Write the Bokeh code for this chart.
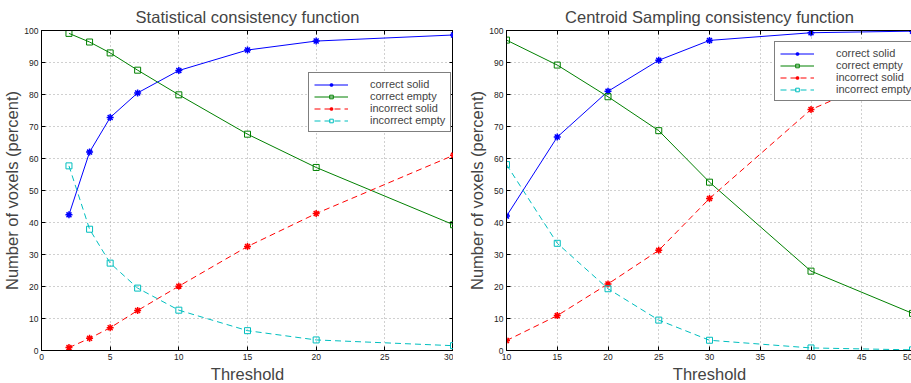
from bokeh.plotting import figure
from bokeh.layouts import row
from bokeh.models import LinearAxis, FixedTicker, Legend, Title
from bokeh.embed import file_html
from bokeh.resources import INLINE

# ---- data: Statistical consistency function ----
stat_threshold = [2, 3.5, 5, 7, 10, 15, 20, 30]
stat_correct_solid = [42.4, 62.0, 72.8, 80.5, 87.5, 93.9, 96.7, 98.6]
stat_correct_empty = [99.1, 96.4, 93.0, 87.6, 79.9, 67.6, 57.2, 39.3]
stat_incorrect_solid = [0.9, 3.8, 7.1, 12.5, 20.1, 32.5, 42.8, 61.0]
stat_incorrect_empty = [57.7, 37.9, 27.3, 19.5, 12.6, 6.2, 3.3, 1.5]

# ---- data: Centroid Sampling consistency function ----
cent_threshold = [10, 15, 20, 25, 30, 40, 50]
cent_correct_solid = [42.0, 66.7, 81.0, 90.7, 96.9, 99.3, 99.8]
cent_correct_empty = [97.0, 89.2, 79.3, 68.7, 52.6, 24.8, 11.6]
cent_incorrect_solid = [3.1, 10.9, 20.8, 31.3, 47.5, 75.3, 89.0]
cent_incorrect_empty = [58.1, 33.5, 19.3, 9.5, 3.2, 0.8, 0.2]

series_labels = ["correct solid", "correct empty", "incorrect solid", "incorrect empty"]
y_ticks = [0, 10, 20, 30, 40, 50, 60, 70, 80, 90, 100]
stat_x_ticks = [0, 5, 10, 15, 20, 25, 30]
cent_x_ticks = [10, 15, 20, 25, 30, 35, 40, 45, 50]
x_label = "Threshold"
y_label = "Number of voxels (percent)"

FONT = "Liberation Sans"
BLUE, GREEN, RED, CYAN = "#0000ff", "#008000", "#ff0000", "#00bfbf"


def style_axis(ax, ticks, show_labels=True):
    ax.ticker = FixedTicker(ticks=ticks)
    ax.major_tick_in = 4
    ax.major_tick_out = 0
    ax.minor_tick_line_color = None
    ax.axis_line_color = "black"
    ax.major_tick_line_color = "black"
    ax.major_label_text_font = FONT
    ax.major_label_text_color = "#222222"
    ax.major_label_text_font_size = "8.5px"
    if show_labels:
        ax.major_label_standoff = 3
    else:
        ax.major_label_overrides = {t: "" for t in ticks}
        ax.major_label_standoff = 0


def make_plot(title, xs, cs, ce, ins, ine, x_range, x_ticks, frame_w, min_left, min_right, leg_loc, extra_right):
    p = figure(frame_width=frame_w, frame_height=320, x_range=x_range, y_range=(0, 100),
               output_backend="svg", toolbar_location=None,
               min_border_left=min_left, min_border_right=min_right,
               min_border_top=0, min_border_bottom=0)
    p.title.text = title
    p.title.text_font = FONT
    p.title.text_font_size = "16.5px"
    p.title.text_font_style = "normal"
    p.title.align = "center"
    p.title.standoff = 10

    for ax in p.xaxis:
        style_axis(ax, x_ticks)
    for ax in p.yaxis:
        style_axis(ax, y_ticks)
        ax.axis_label = y_label
        ax.axis_label_text_font = FONT
        ax.axis_label_text_font_size = "16.5px"
        ax.axis_label_text_font_style = "normal"
        ax.axis_label_standoff = 0

    xt = Title(text=x_label, align="center", text_font=FONT, text_font_size="16.5px",
               text_font_style="normal", standoff=0, offset=0)
    p.add_layout(xt, "below")

    top = LinearAxis()
    style_axis(top, x_ticks, show_labels=False)
    p.add_layout(top, "above")
    if extra_right:
        right = LinearAxis()
        style_axis(right, y_ticks, show_labels=False)
        p.add_layout(right, "right")

    p.xgrid.ticker = FixedTicker(ticks=x_ticks)
    p.ygrid.ticker = FixedTicker(ticks=y_ticks)
    for g in (p.xgrid, p.ygrid):
        g.grid_line_color = "#a0a0a0"
        g.grid_line_dash = "1 3"
        g.grid_line_width = 1
    p.outline_line_color = "black"
    p.outline_line_width = 1

    items = []
    r1 = p.line(xs, cs, line_color=BLUE, line_width=1)
    r1b = p.scatter(xs, cs, marker="asterisk", size=7, line_color=BLUE, line_width=1.5)
    items.append((series_labels[0], [r1, r1b]))
    r2 = p.line(xs, ce, line_color=GREEN, line_width=1)
    r2b = p.scatter(xs, ce, marker="square", size=6, line_color=GREEN, fill_color=None, line_width=1)
    items.append((series_labels[1], [r2, r2b]))
    r3 = p.line(xs, ins, line_color=RED, line_width=1, line_dash="6 4")
    r3b = p.scatter(xs, ins, marker="asterisk", size=7, line_color=RED, line_width=1.5)
    items.append((series_labels[2], [r3, r3b]))
    r4 = p.line(xs, ine, line_color=CYAN, line_width=1, line_dash="6 4")
    r4b = p.scatter(xs, ine, marker="square", size=6, line_color=CYAN, fill_color=None, line_width=1)
    items.append((series_labels[3], [r4, r4b]))

    leg = Legend(items=items, location=leg_loc)
    leg.label_text_font = FONT
    leg.label_text_font_size = "11px"
    leg.label_height = 9
    leg.glyph_height = 9
    leg.glyph_width = 34
    leg.label_standoff = 22
    leg.spacing = -4
    leg.padding = 5
    leg.margin = 0
    leg.border_line_color = "black"
    leg.border_line_width = 1
    leg.background_fill_alpha = 1
    p.add_layout(leg, "center")
    return p


p1 = make_plot("Statistical consistency function",
               stat_threshold, stat_correct_solid, stat_correct_empty,
               stat_incorrect_solid, stat_incorrect_empty,
               (0, 30), stat_x_ticks, 412, 35, 0, (267, 218), True)
p2 = make_plot("Centroid Sampling consistency function",
               cent_threshold, cent_correct_solid, cent_correct_empty,
               cent_incorrect_solid, cent_incorrect_empty,
               (10, 50), cent_x_ticks, 406, 53, 0, (268, 249), False)

layout = row(p1, p2)
open("out.html", "w").write(file_html(layout, INLINE))
